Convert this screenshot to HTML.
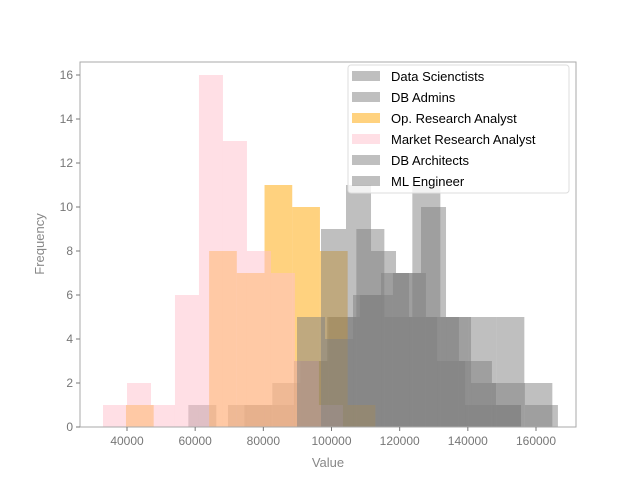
<!DOCTYPE html>
<html><head><meta charset="utf-8"><style>
body{margin:0;background:#fff;}
svg text{font-family:"Liberation Sans","DejaVu Sans",sans-serif;}
</style></head><body>
<svg id="chart" width="640" height="480" xmlns="http://www.w3.org/2000/svg">
<rect width="640" height="480" fill="#fff"/>
<g id="bars"></g>
<g id="axes"></g>
<g id="legend"></g>
</svg>
<script>
const seriesNames = ["Data Scienctists","DB Admins","Op. Research Analyst","Market Research Analyst","DB Architects","ML Engineer"];
const seriesColors = ["#808080","#808080","#ffa500","#ffc0cb","#808080","#808080"];
const seriesStart = [58000, 69630, 39700, 32960, 96920, 89880];
const seriesWidth = [8215, 9680, 8130, 7040, 7335, 8215];
const countsDS = [1,0,1,2,3,5,9,5,11,5,5,5,2];
const countsDBA = [1,1,3,5,6,7,5,3,2,1];
const countsOR = [1,0,0,8,7,11,10,8,1];
const countsMR = [1,2,1,6,16,13,8,7,3,1];
const countsDBArch = [9,11,8,7,10,5,2,1];
const countsML = [5,4,6,7,5,3,1,1];
const seriesCounts = [countsDS,countsDBA,countsOR,countsMR,countsDBArch,countsML];
const xTicks = [40000,60000,80000,100000,120000,140000,160000];
const yTicks = [0,2,4,6,8,10,12,14,16];

const L=80,R=576,T=62,B=427;
const xs = v => 127 + (v-40000)*(409/120000);
const ys = v => B - v*22;
const NS="http://www.w3.org/2000/svg";
function mk(tag, attrs){const e=document.createElementNS(NS,tag);for(const k in attrs)e.setAttribute(k,attrs[k]);return e;}

const bars=document.getElementById('bars');
seriesCounts.forEach((counts,si)=>{
  counts.forEach((c,i)=>{
    if(!c) return;
    const x0=xs(seriesStart[si]+i*seriesWidth[si]), x1=xs(seriesStart[si]+(i+1)*seriesWidth[si]);
    const r=mk('rect',{x:x0,y:ys(c),width:x1-x0,height:B-ys(c),fill:seriesColors[si],'fill-opacity':0.5});
    
    
    bars.appendChild(r);
  });
});

const axes=document.getElementById('axes');
const frame=mk('rect',{x:L,y:T,width:R-L,height:B-T,fill:'none',stroke:'#aaa','stroke-width':1});


axes.appendChild(frame);
xTicks.forEach(t=>{
  const x=xs(t);
  axes.appendChild(mk('line',{x1:x,x2:x,y1:B,y2:B+4,stroke:'#777'}));
  const tx=mk('text',{x:x,y:B+18,'text-anchor':'middle','font-size':12,fill:'#777'});
  tx.textContent=t;
  
  
  axes.appendChild(tx);
});
yTicks.forEach(t=>{
  const y=ys(t);
  axes.appendChild(mk('line',{x1:L-4,x2:L,y1:y,y2:y,stroke:'#777'}));
  const tx=mk('text',{x:L-7,y:y+4,'text-anchor':'end','font-size':12,fill:'#777'});
  tx.textContent=t;
  
  
  axes.appendChild(tx);
});
const xl=mk('text',{x:328,y:467,'text-anchor':'middle','font-size':13,fill:'#888'});
xl.textContent='Value';


axes.appendChild(xl);
const yl=mk('text',{x:44,y:244,'text-anchor':'middle','font-size':13,fill:'#888',transform:'rotate(-90 44 244)'});
yl.textContent='Frequency';


axes.appendChild(yl);

const lg=document.getElementById('legend');
const box=mk('rect',{x:348,y:65,width:221,height:128,rx:3,fill:'#fff','fill-opacity':0.8,stroke:'#ddd'});


lg.appendChild(box);
seriesNames.forEach((n,i)=>{
  const y=76+i*21;
  const sw=mk('rect',{x:352,y:y-5,width:28,height:10,fill:seriesColors[i],'fill-opacity':0.5});
  
  
  lg.appendChild(sw);
  const tx=mk('text',{x:391,y:y+5,'font-size':13,fill:'#000'});
  tx.textContent=n;
  
  
  lg.appendChild(tx);
});
</script>
</body></html>
